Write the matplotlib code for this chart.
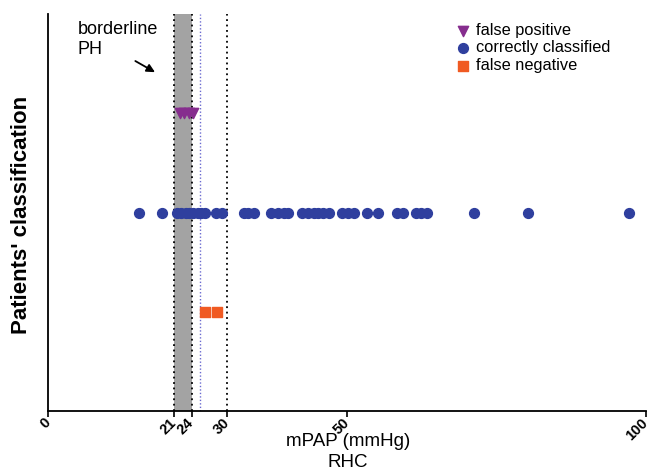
import numpy as np
import matplotlib
matplotlib.use("Agg")
import matplotlib.pyplot as plt

plt.rcParams['font.family'] = ['Liberation Sans', 'DejaVu Sans']

# mPAP values (mmHg)
false_positive = [22.0, 22.8, 23.6, 24.3]
correct = [15.3, 19.1, 21.6, 22.3, 23.0, 23.6, 24.3, 25.0, 25.6, 26.3,
           28.1, 29.1, 32.7, 33.5, 34.5, 37.3, 38.4, 39.4, 40.2, 42.4,
           43.4, 44.4, 45.2, 46.0, 47.0, 49.2, 50.2, 51.1, 53.4, 55.2,
           58.4, 59.4, 61.6, 62.4, 63.3, 71.3, 80.3, 97.2]
false_negative = [26.3, 28.2]

# vertical position of each group
y_fp, y_cc, y_fn = 3, 2, 1

xticks = [0, 21, 24, 30, 50, 100]
band = (21, 24)
blue_line = 25.4
dotted_lines = [21, 24, 30]

fig = plt.figure(figsize=(6.51, 4.71), dpi=100)
ax = fig.add_axes([48 / 651, 1 - 411 / 471, (646 - 48) / 651, (411 - 14) / 471])

ax.axvspan(band[0], band[1], color="#a3a3a3", zorder=1, lw=0)
for x in dotted_lines:
    ax.axvline(x, color="black", ls=(0, (1, 2)), lw=1.3, zorder=2)
ax.axvline(blue_line, color="#6a6ad0", ls=(0, (1, 1.5)), lw=1.0, zorder=2)

ax.scatter(false_positive, [y_fp] * len(false_positive), marker="v", s=55,
           color="#862d8e", zorder=3, label="false positive")
ax.scatter(correct, [y_cc] * len(correct), marker="o", s=50,
           color="#2f3f9e", zorder=3, label="correctly classified")
ax.scatter(false_negative, [y_fn] * len(false_negative), marker="s", s=50,
           color="#f05a22", zorder=3, label="false negative")

ax.set_xlim(0, 100)
ax.set_ylim(0, 4)
ax.set_xticks(xticks)
ax.set_xticklabels([str(t) for t in xticks], rotation=45, ha="right",
                   va="center", rotation_mode="anchor", fontsize=10.5,
                   fontweight="bold")
ax.set_yticks([])
ax.tick_params(axis="x", length=4, width=1.2, pad=3)
for s in ["top", "right"]:
    ax.spines[s].set_visible(False)
for s in ["left", "bottom"]:
    ax.spines[s].set_linewidth(1.3)

fig.text(22 / 651, 1 - 215 / 471, "Patients' classification", rotation=90,
         ha="center", va="center", fontsize=16, fontweight="bold")
fig.text(348 / 651, 1 - 452 / 471, "mPAP (mmHg)\nRHC", ha="center",
         va="center", fontsize=13.5, linespacing=1.35)

ax.text(5.0, 3.93, "borderline\nPH", fontsize=13, va="top", ha="left")
ax.annotate("", xy=(18.3, 3.40), xytext=(14.2, 3.54),
            arrowprops=dict(arrowstyle="-|>", color="black", lw=1.3,
                            mutation_scale=12))

ax.legend(loc="upper left", bbox_to_anchor=(455 / 651, 1 - 23 / 471),
          bbox_transform=fig.transFigure, frameon=False, fontsize=11.8,
          labelspacing=0.15, handletextpad=0.3, handlelength=1.0,
          borderpad=0, borderaxespad=0, scatterpoints=1)

fig.savefig("out.png", dpi=100)
